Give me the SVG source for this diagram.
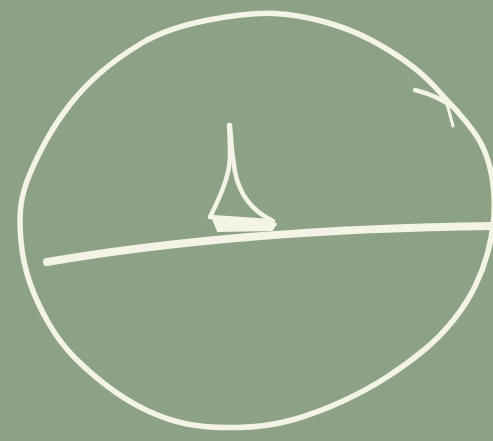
<svg xmlns="http://www.w3.org/2000/svg" width="493" height="441" viewBox="0 0 493 441">
<style>
.chalk{fill:none;stroke:#f3f3e6;stroke-linecap:round;stroke-linejoin:round}
</style>
<rect width="493" height="441" fill="#8da285"/>
<g id="loop">
<path class="chalk" stroke-width="5.5" d="M208.5,20 Q250,12 275,13.5 Q300,15 325,22 Q350,29 370,39.5 Q390,50 406.5,62 Q423,74 434,86 Q445,98 456,110 Q467,122 475,133.5 Q483,145 487.5,159 Q492,173 493.5,189 Q495,205 493.5,221 Q492,237 487.5,253.5 Q483,270 475,286.5 Q467,303 453.5,320 Q440,337 423.5,350.5 Q407,364 387,377 Q367,390 342,401.5 Q317,413 292,420 Q267,427 237,427.5 Q207,428 187,424 Q167,420 147,410.5 Q127,401 108.5,387 Q90,373 75,358 Q60,343 48.5,323 Q37,303 30,283 Q23,263 21,241.5 Q19,220 21,205 Q23,190 30,173.5 Q37,157 47,139 Q57,121 70,104.5 Q83,88 100,73 Q117,58 142,43 Q167,28 208.5,20 Z"/>
<path class="chalk" stroke-width="4.5" d="M415,90 Q440,96 458,111"/>
<path class="chalk" stroke-width="3" d="M447,104 L453,126"/>
</g>
<g id="line">
<path class="chalk" stroke-width="8" d="M47,262 Q240,229 493,226"/>
</g>
<g id="cusp">
<path class="chalk" stroke-width="4.5" d="M229,125 C230,145 231,160 228,172 C224,190 216,205 210,217"/>
<path class="chalk" stroke-width="4.5" d="M230,125 C231,145 233,160 235,172 C239,192 250,210 273,221"/>
<path class="chalk" stroke-width="4.5" d="M210,217 L268,221"/>
<path fill="#f3f3e6" stroke="#f3f3e6" stroke-width="2" stroke-linejoin="round" d="M213,219 L264,220 L276,224 L272,230 L218,231 Z"/>
</g>
</svg>
